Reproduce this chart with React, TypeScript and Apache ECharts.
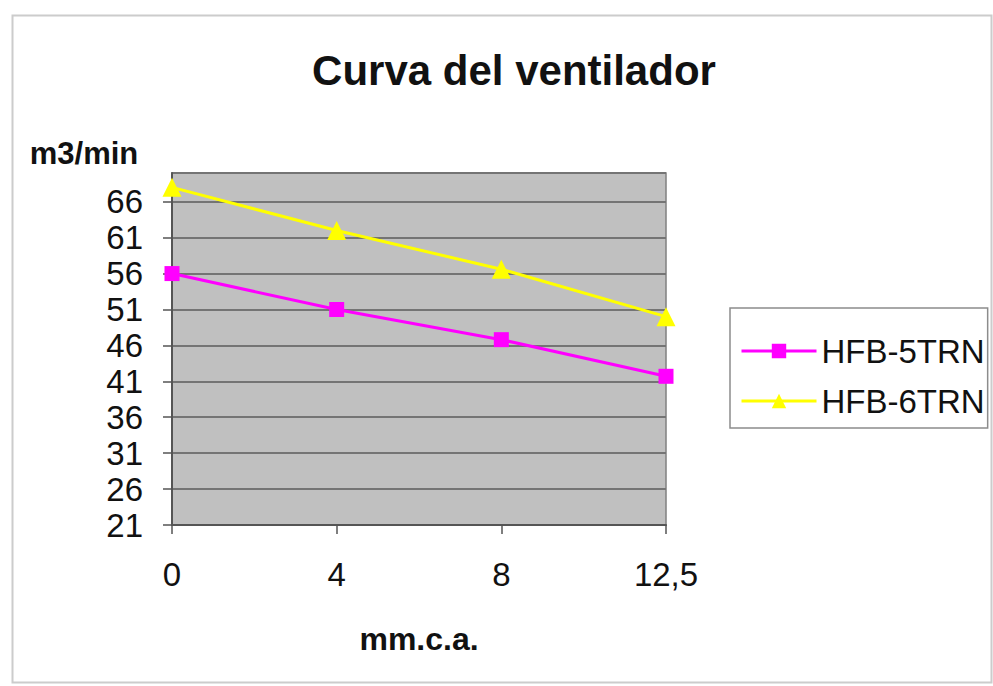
import React, { useEffect, useRef } from "react";
import * as echarts from "echarts";

const categories = ["0", "4", "8", "12,5"];
const seriesNames = ["HFB-5TRN", "HFB-6TRN"];
const hfb5trn = [56, 51, 46.8, 41.7];
const hfb6trn = [68, 62, 56.6, 50];
const yMin = 21;
const yMax = 70;
const yStep = 5;

const FONT = "'Liberation Sans', Arial, Helvetica, sans-serif";

export default function App() {
  const ref = useRef<HTMLDivElement>(null);
  useEffect(() => {
    document.body.style.margin = "0";
    const chart = echarts.init(ref.current!, null, { renderer: "svg" });
    chart.setOption({
      animation: false,
      backgroundColor: "#ffffff",
      textStyle: { fontFamily: FONT },
      graphic: [
        {
          type: "rect",
          shape: { x: 12.5, y: 15.5, width: 979, height: 667 },
          style: { fill: "none", stroke: "#cccccc", lineWidth: 2 },
          silent: true,
        },
        {
          type: "text",
          x: 514,
          y: 70,
          style: {
            text: "Curva del ventilador",
            font: `bold 42px ${FONT}`,
            fill: "#111",
            align: "center",
            verticalAlign: "middle",
          },
        },
        {
          type: "text",
          x: 84,
          y: 153,
          style: {
            text: "m3/min",
            font: `bold 31px ${FONT}`,
            fill: "#111",
            align: "center",
            verticalAlign: "middle",
          },
        },
      ],
      grid: {
        left: 172,
        top: 173,
        width: 494,
        height: 352,
        show: true,
        backgroundColor: "#c0c0c0",
        borderColor: "#808080",
        borderWidth: 1.5,
      },
      legend: {
        left: 730,
        top: 308,
        orient: "vertical",
        data: seriesNames,
        backgroundColor: "#ffffff",
        borderColor: "#8c8c8c",
        borderWidth: 1.5,
        padding: [25, 3, 9, 10],
        itemWidth: 75,
        itemHeight: 18,
        itemGap: 14,
        lineStyle: { width: 3 },
        textStyle: {
          fontFamily: FONT,
          fontSize: 33,
          lineHeight: 36,
          color: "#111",
        },
      },
      xAxis: {
        type: "category",
        data: categories,
        boundaryGap: false,
        name: "mm.c.a.",
        nameLocation: "middle",
        nameGap: 98,
        nameTextStyle: {
          fontFamily: FONT,
          fontSize: 32,
          fontWeight: "bold",
          color: "#111",
        },
        axisLine: { show: true, lineStyle: { color: "#555", width: 2 } },
        axisTick: {
          show: true,
          inside: false,
          length: 9,
          alignWithLabel: true,
          lineStyle: { color: "#555", width: 1.5 },
        },
        axisLabel: {
          margin: 33,
          fontFamily: FONT,
          fontSize: 33,
          color: "#111",
        },
        splitLine: { show: false },
      },
      yAxis: {
        type: "value",
        min: yMin,
        max: yMax,
        interval: yStep,
        axisLine: { show: true, lineStyle: { color: "#555", width: 2 } },
        axisTick: {
          show: true,
          length: 9,
          lineStyle: { color: "#555", width: 1.5 },
        },
        axisLabel: {
          margin: 29,
          fontFamily: FONT,
          fontSize: 33,
          color: "#111",
          showMaxLabel: false,
        },
        splitLine: {
          show: true,
          lineStyle: { color: "#747474", width: 2 },
        },
      },
      series: [
        {
          name: seriesNames[0],
          type: "line",
          data: hfb5trn,
          symbol: "rect",
          symbolSize: 15,
          lineStyle: { color: "#ff00ff", width: 3 },
          itemStyle: { color: "#ff00ff" },
          z: 3,
        },
        {
          name: seriesNames[1],
          type: "line",
          data: hfb6trn,
          symbol: "triangle",
          symbolSize: 19,
          lineStyle: { color: "#ffff00", width: 3 },
          itemStyle: { color: "#ffff00" },
          z: 3,
        },
      ],
    });
    return () => chart.dispose();
  }, []);
  return <div ref={ref} style={{ width: 993, height: 686 }} />;
}
